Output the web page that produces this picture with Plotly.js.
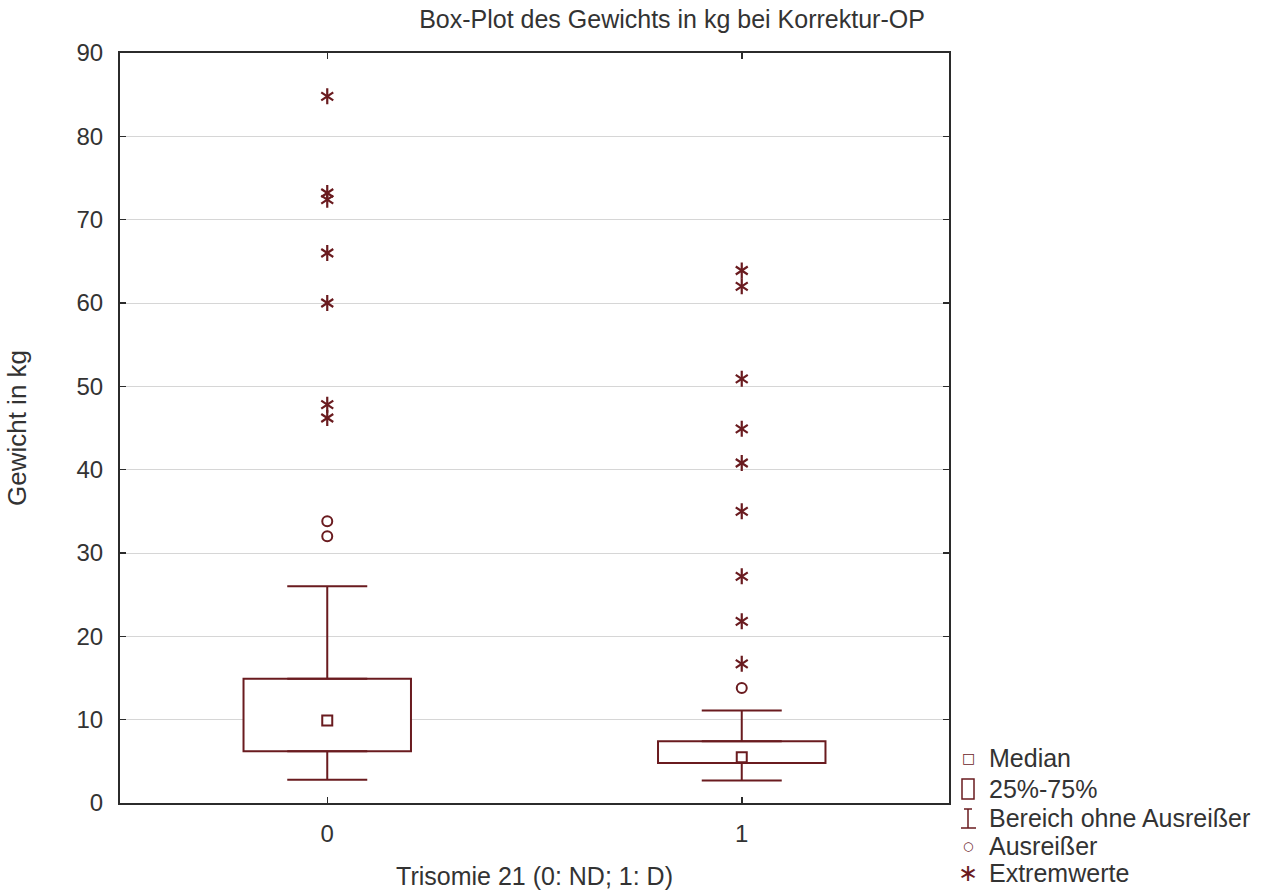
<!DOCTYPE html>
<html>
<head>
<meta charset="utf-8">
<script src="https://cdn.plot.ly/plotly-3.0.1.min.js"></script>
<style>html,body{margin:0;padding:0;background:#fff;}</style>
</head>
<body>
<div id="chart" style="width:1269px;height:890px;"></div>
<script>
// ---- data ----
const groups = [0, 1];
const groupLabels = ['0', '1'];
const q1 = [6.2, 4.8];
const medians = [9.9, 5.5];
const q3 = [14.9, 7.4];
const whiskerLow = [2.8, 2.7];
const whiskerHigh = [26.0, 11.1];
const outliersG0 = [33.8, 32.0];
const outliersG1 = [13.8];
const extremesG0 = [84.8, 73.2, 72.4, 66.0, 60.0, 47.8, 46.2];
const extremesG1 = [63.9, 62.0, 50.9, 44.9, 40.8, 35.0, 27.2, 21.8, 16.7];
const yTicks = [0, 10, 20, 30, 40, 50, 60, 70, 80, 90];

const legendLabels = ['Median', '25%-75%', 'Bereich ohne Ausreißer', 'Ausreißer', 'Extremwerte'];

const RED = '#6a1b1f';
const TXT = '#333333';
const FONT = 'Arial, "Liberation Sans", sans-serif';

// ---- traces ----
const boxTrace = {
  type: 'bar', x: groups, base: q1,
  y: q3.map((v, i) => v - q1[i]),
  width: 0.404,
  marker: {color: '#ffffff', line: {color: RED, width: 2}},
  hoverinfo: 'skip', showlegend: false
};
const upperWhisker = {
  type: 'scatter', mode: 'markers', x: groups, y: q3,
  marker: {size: 1, opacity: 0},
  error_y: {type: 'data', symmetric: false,
    array: whiskerHigh.map((v, i) => v - q3[i]),
    arrayminus: q3.map(() => 0),
    width: 40, thickness: 2, color: RED},
  hoverinfo: 'skip', showlegend: false
};
const lowerWhisker = {
  type: 'scatter', mode: 'markers', x: groups, y: q1,
  marker: {size: 1, opacity: 0},
  error_y: {type: 'data', symmetric: false,
    array: q1.map(() => 0),
    arrayminus: whiskerLow.map((v, i) => q1[i] - v),
    width: 40, thickness: 2, color: RED},
  hoverinfo: 'skip', showlegend: false
};
const medianTrace = {
  type: 'scatter', mode: 'markers', x: groups, y: medians,
  marker: {symbol: 'square-open', size: 10, color: RED, line: {width: 2, color: RED}},
  showlegend: false
};
const outX = outliersG0.map(() => groups[0]).concat(outliersG1.map(() => groups[1]));
const outY = outliersG0.concat(outliersG1);
const outlierTrace = {
  type: 'scatter', mode: 'markers', x: outX, y: outY,
  marker: {symbol: 'circle-open', size: 10, color: RED, line: {width: 2, color: RED}},
  showlegend: false
};
const extX = extremesG0.map(() => groups[0]).concat(extremesG1.map(() => groups[1]));
const extY = extremesG0.concat(extremesG1);
const extremeUp = {
  type: 'scatter', mode: 'markers', x: extX, y: extY,
  marker: {symbol: 'y-up-open', size: 10, color: RED, line: {width: 2.2, color: RED}},
  showlegend: false
};
const extremeDown = {
  type: 'scatter', mode: 'markers', x: extX, y: extY,
  marker: {symbol: 'y-down-open', size: 10, color: RED, line: {width: 2.2, color: RED}},
  showlegend: false, hoverinfo: 'skip'
};

// ---- layout ----
const W = 1269, H = 890;
const M = {l: 120, r: 320, t: 53, b: 87};
const plotW = W - M.l - M.r, plotH = H - M.t - M.b;
const px = v => (v - M.l) / plotW;          // pixel x -> paper x
const py = v => (H - M.b - v) / plotH;      // pixel y -> paper y

const legendRows = [758, 789, 818, 846, 873];
const annotations = [];
legendLabels.forEach((label, i) => {
  annotations.push({
    xref: 'paper', yref: 'paper', x: px(987), y: py(legendRows[i]),
    xanchor: 'left', yanchor: 'middle', showarrow: false,
    text: label, font: {family: FONT, size: 25, color: TXT}
  });
});
// text-glyph legend keys (median, outlier, extreme)
[[0, '\u25A1', 14], [3, '\u25CB', 12], [4, '\u2217', 24]].forEach(([i, sym, sz]) => {
  annotations.push({
    xref: 'paper', yref: 'paper', x: px(968), y: py(legendRows[i]),
    xanchor: 'center', yanchor: 'middle', showarrow: false,
    text: sym, font: {family: 'DejaVu Sans', size: sz, color: RED}
  });
});
// drawn legend keys (box and whisker)
const shapes = [
  {type: 'rect', xref: 'paper', yref: 'paper',
   x0: px(962), x1: px(974), y0: py(799), y1: py(779),
   line: {color: RED, width: 1.5}, fillcolor: 'rgba(0,0,0,0)'},
  {type: 'path', xref: 'paper', yref: 'paper',
   path: `M${px(964)},${py(809)} L${px(972)},${py(809)} M${px(968)},${py(809)} L${px(968)},${py(828)} M${px(961)},${py(828)} L${px(976)},${py(828)}`,
   line: {color: RED, width: 1.5}}
];

const layout = {
  width: W, height: H,
  margin: M,
  paper_bgcolor: '#ffffff', plot_bgcolor: '#ffffff',
  showlegend: false,
  font: {family: FONT, color: TXT},
  title: {
    text: 'Box-Plot des Gewichts in kg bei Korrektur-OP',
    xref: 'container', x: 672 / W, xanchor: 'center',
    yref: 'container', y: 1 - 19 / H, yanchor: 'middle',
    font: {family: FONT, size: 25, color: TXT}
  },
  xaxis: {
    range: [-0.5, 1.5], tickvals: groups, ticktext: groupLabels,
    showline: true, linecolor: '#2b2b2b', linewidth: 2, mirror: 'ticks',
    ticks: 'inside', ticklen: 6, tickcolor: '#2b2b2b', tickwidth: 1.5,
    showgrid: false, zeroline: false,
    tickfont: {family: FONT, size: 24, color: TXT},
    ticklabelstandoff: 8,
    title: {text: 'Trisomie 21 (0: ND; 1: D)', standoff: 24, font: {family: FONT, size: 25, color: TXT}},
    fixedrange: true
  },
  yaxis: {
    range: [0, 90], tickvals: yTicks,
    showline: true, linecolor: '#2b2b2b', linewidth: 2, mirror: 'ticks',
    ticks: 'inside', ticklen: 6, tickcolor: '#2b2b2b', tickwidth: 1.5,
    showgrid: true, gridcolor: '#d6d6d6', gridwidth: 1,
    zeroline: false,
    tickfont: {family: FONT, size: 24, color: TXT},
    ticklabelstandoff: 10,
    title: {text: 'Gewicht in kg', standoff: 42, font: {family: FONT, size: 26, color: TXT}},
    fixedrange: true
  },
  annotations: annotations,
  shapes: shapes
};

Plotly.newPlot('chart',
  [boxTrace, upperWhisker, lowerWhisker, medianTrace, outlierTrace, extremeUp, extremeDown],
  layout, {displayModeBar: false, staticPlot: true});
</script>
</body>
</html>
